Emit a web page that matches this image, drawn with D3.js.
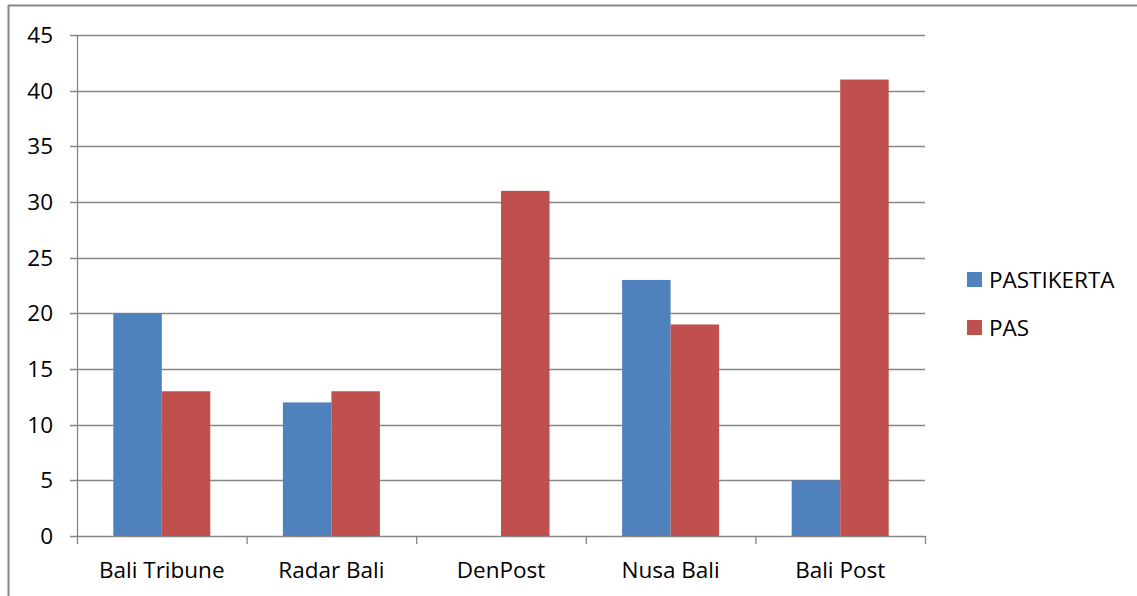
<!DOCTYPE html>
<html><head><meta charset="utf-8">
<script src="https://cdn.jsdelivr.net/npm/d3@7"></script>
<style>body{margin:0;background:#fff}svg{display:block}text{font-family:"Open Sans","Noto Sans",sans-serif}</style>
</head><body><svg id="c" width="1137" height="596"></svg>
<script>
const categories = ["Bali Tribune","Radar Bali","DenPost","Nusa Bali","Bali Post"];
const seriesNames = ["PASTIKERTA","PAS"];
const pastikerta = [20,12,0,23,5];
const pas = [13,13,31,19,41];
const yTicks = [0,5,10,15,20,25,30,35,40,45];
const colors = ["#4F81BD","#C0504D"];

const svg = d3.select("#c");
const L = 77, R = 925, T = 35, B = 536;
const grid = "#868686";
const fs = 22.5;
// frame
svg.append("line").attr("x1",8).attr("x2",1137).attr("y1",5.5).attr("y2",5.5).attr("stroke","#888").attr("stroke-width",2);
svg.append("line").attr("x1",8.5).attr("x2",8.5).attr("y1",5).attr("y2",596).attr("stroke","#888").attr("stroke-width",2);

const x = d3.scaleBand().domain(categories).range([L,R]);
const y = d3.scaleLinear().domain([0,45]).range([B,T]);
const bw = x.bandwidth()*0.286;
const x1 = d3.scaleBand().domain(seriesNames).range([0, bw*2]);

// grid
svg.append("g").selectAll("line").data(yTicks).join("line")
 .attr("x1",L-7).attr("x2",R).attr("y1",d=>Math.round(y(d))+0.5).attr("y2",d=>Math.round(y(d))+0.5)
 .attr("stroke",grid).attr("stroke-width",1.3);
svg.append("g").selectAll("text").data(yTicks).join("text")
 .attr("x",53).attr("y",d=>y(d)).attr("dy","0.35em").attr("text-anchor","end")
 .attr("font-size",fs).attr("fill","#000").text(d=>d);

const data = [pastikerta, pas];
const g = svg.append("g");
categories.forEach((c,i)=>{
  const x0 = x(c) + (x.bandwidth()-bw*2)/2;
  seriesNames.forEach((s,j)=>{
    const v = data[j][i];
    g.append("rect").attr("x",x0+x1(s)).attr("width",x1.bandwidth())
     .attr("y",y(v)).attr("height",B-y(v)).attr("fill",colors[j]);
  });
});
// y axis line
svg.append("line").attr("x1",L+0.5).attr("x2",L+0.5).attr("y1",T).attr("y2",B).attr("stroke",grid).attr("stroke-width",1.3);
// x axis ticks
const bounds = categories.map(c=>x(c)).concat([R]);
svg.append("g").selectAll("line").data(bounds).join("line")
 .attr("x1",d=>d+0.5).attr("x2",d=>d+0.5).attr("y1",B).attr("y2",B+8).attr("stroke",grid).attr("stroke-width",1.3);
svg.append("g").selectAll("text").data(categories).join("text")
 .attr("x",d=>x(d)+x.bandwidth()/2).attr("y",578).attr("text-anchor","middle")
 .attr("font-size",fs).attr("fill","#000").text(d=>d);
// legend
const lg = svg.append("g");
seriesNames.forEach((s,j)=>{
  const yy = 279 + j*48;
  lg.append("rect").attr("x",967).attr("y",yy-7).attr("width",15).attr("height",15).attr("fill",colors[j]);
  lg.append("text").attr("x",989).attr("y",yy+1).attr("dy","0.35em").attr("font-size",fs).attr("fill","#000").text(s);
});
</script></body></html>
